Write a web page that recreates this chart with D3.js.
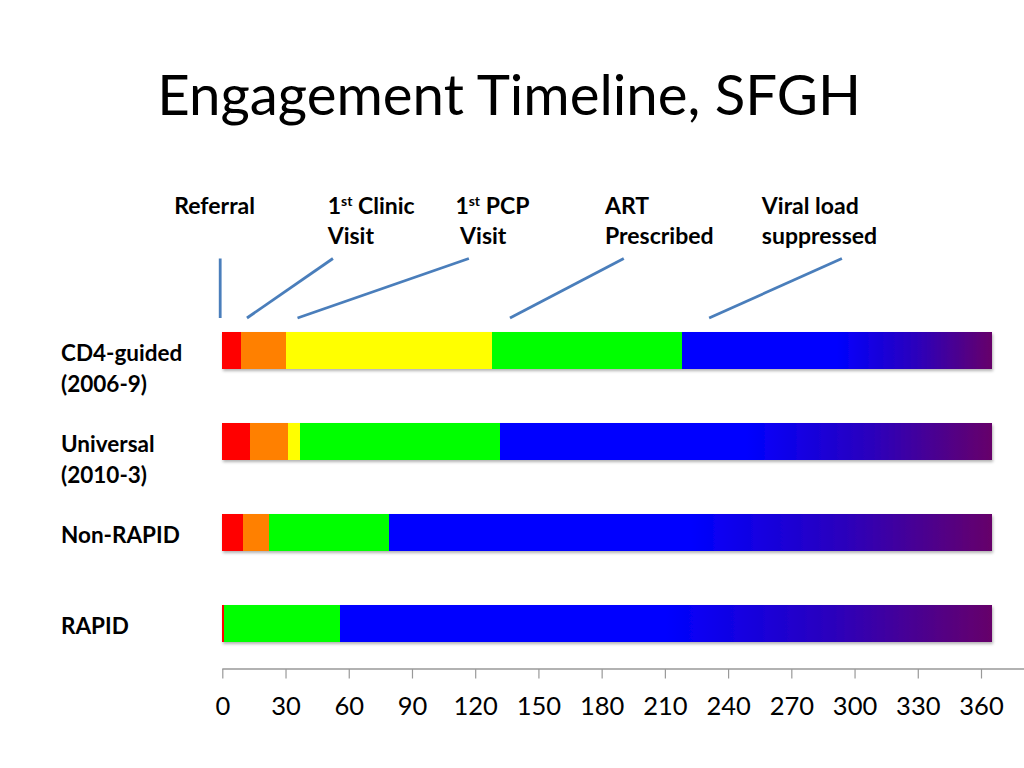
<!DOCTYPE html>
<html><head><meta charset="utf-8">
<script src="https://cdn.jsdelivr.net/npm/d3@7/dist/d3.min.js"></script>
<style>body{margin:0;background:#fff} svg{display:block}</style>
</head><body>
<script>
// ---------- data ----------
const categories = ["CD4-guided (2006-9)", "Universal (2010-3)", "Non-RAPID", "RAPID"];
const categoryLines = [["CD4-guided", "(2006-9)"], ["Universal", "(2010-3)"], ["Non-RAPID"], ["RAPID"]];
const stages = ["Referral", "1st Clinic Visit", "1st PCP Visit", "ART Prescribed", "Viral load suppressed"];
// cumulative day at which each coloured segment ends
const cd4Guided = [9, 30, 128, 218, 365];
const universal = [13, 31, 37, 132, 365];
const nonRapid  = [10, 22, 22, 79, 365];
const rapid     = [1, 1, 1, 56, 365];
const seriesByCategory = [cd4Guided, universal, nonRapid, rapid];
const xTicks = [0, 30, 60, 90, 120, 150, 180, 210, 240, 270, 300, 330, 360];
const segmentColors = ["#ff0000", "#ff8000", "#ffff00", "#00ff00", "blue-gradient"];
// annotation label texts (line1 pieces [text, superscript?]; line2)
const annotationLabels = [
  {l1: [["Referral", false]], l2: ""},
  {l1: [["1", false], ["st", true], [" Clinic", false]], l2: "Visit"},
  {l1: [["1", false], ["st", true], [" PCP", false]], l2: " Visit"},
  {l1: [["ART", false]], l2: "Prescribed"},
  {l1: [["Viral load", false]], l2: "suppressed"}
];
// label left edge (in days), pointer top and bottom (in days)
const labelDay      = [-22.8, 50, 110.6, 181.6, 256];
const pointerTopDay = [-1, 52.5, 117, 190.5, 294];
const pointerBotDay = [-1, 11.7, 35.7, 136.5, 231];

// ---------- layout ----------
const W = 1024, H = 768;
const svg = d3.select("body").append("svg").attr("width", W).attr("height", H);
const x = d3.scaleLinear().domain([0, 360]).range([222.3, 981]);
const y = d3.scaleBand().domain(categories).range([305, 669]).paddingInner(0.59).paddingOuter(0.295);

const defs = svg.append("defs");
const grad = defs.append("linearGradient").attr("id", "blueGrad")
  .attr("x1", "0%").attr("x2", "100%").attr("y1", "0%").attr("y2", "0%");
grad.append("stop").attr("offset", "0%").attr("stop-color", "#0000ff");
grad.append("stop").attr("offset", "50%").attr("stop-color", "#0000ff");
grad.append("stop").attr("offset", "76%").attr("stop-color", "#2c00bb");
grad.append("stop").attr("offset", "100%").attr("stop-color", "#66006a");
const f = defs.append("filter").attr("id", "shadow").attr("x", "-5%").attr("y", "-20%").attr("width", "110%").attr("height", "160%");
f.append("feDropShadow").attr("dx", 1).attr("dy", 2).attr("stdDeviation", 1.5)
  .attr("flood-color", "#000").attr("flood-opacity", 0.3);

const font = "Lato, 'Open Sans', sans-serif";

// title
const title = svg.append("text").attr("x", 157.3).attr("y", 115)
  .attr("font-family", font).attr("font-size", 51).attr("fill", "#000")
  .text("Engagement Timeline, SFGH");
(function(){ const w = title.node().getComputedTextLength(); title.attr("font-size", 51 * 704 / w); })();

// bars
categories.forEach((cat, ci) => {
  const ends = seriesByCategory[ci];
  const g = svg.append("g").attr("filter", "url(#shadow)");
  const segs = ends.map((e, i) => ({start: i === 0 ? 0 : ends[i - 1], end: e, color: segmentColors[i]}))
    .filter(s => s.end > s.start);
  g.selectAll("rect").data(segs).join("rect")
    .attr("x", d => x(d.start))
    .attr("y", y(cat))
    .attr("width", d => x(d.end) - x(d.start))
    .attr("height", y.bandwidth())
    .attr("fill", d => d.color === "blue-gradient" ? "url(#blueGrad)" : d.color)
    .attr("shape-rendering", "crispEdges");
});

// category labels
categories.forEach((cat, ci) => {
  const t = svg.append("text").attr("font-family", font).attr("font-weight", "bold")
    .attr("font-size", 22.5).attr("fill", "#000");
  const cy = y(cat) + y.bandwidth() / 2;
  categoryLines[ci].forEach((ln, li) => {
    t.append("tspan").attr("x", 61).attr("y", cy + 10.5 + li * 31).text(ln);
  });
});

// axis
const axis = d3.axisBottom(x).tickValues(xTicks).tickSize(9.5).tickPadding(18).tickSizeOuter(0);
const ag = svg.append("g").attr("transform", "translate(0,669)").call(axis);
ag.select(".domain").remove();
ag.append("line").attr("x1", x(0)).attr("x2", W).attr("y1", 0).attr("y2", 0)
  .attr("stroke", "#999").attr("stroke-width", 1.5);
ag.selectAll(".tick line").attr("stroke", "#999").attr("stroke-width", 1.2);
ag.selectAll(".tick text").attr("font-family", font).attr("font-size", 25.5).attr("fill", "#000");

// annotations
annotationLabels.forEach((a, i) => {
  const lx = x(labelDay[i]);
  const t = svg.append("text").attr("font-family", font).attr("font-weight", "bold")
    .attr("font-size", 23).attr("fill", "#000").attr("x", lx).attr("y", 214);
  a.l1.forEach(([s, sup]) => {
    if (sup) t.append("tspan").attr("font-size", 14).attr("dy", -8).text(s);
    else if (t.selectAll("tspan").size() > 0) t.append("tspan").attr("dy", 8).text(s);
    else t.append("tspan").text(s);
  });
  if (a.l2) {
    svg.append("text").attr("font-family", font).attr("font-weight", "bold")
      .attr("font-size", 23).attr("fill", "#000").attr("x", lx).attr("y", 244)
      .style("white-space", "pre").text(a.l2);
  }
  svg.append("line")
    .attr("x1", x(pointerTopDay[i])).attr("y1", 258.5)
    .attr("x2", x(pointerBotDay[i])).attr("y2", 318)
    .attr("stroke", "#4a7ebb").attr("stroke-width", 2.8);
});
</script>
</body></html>
